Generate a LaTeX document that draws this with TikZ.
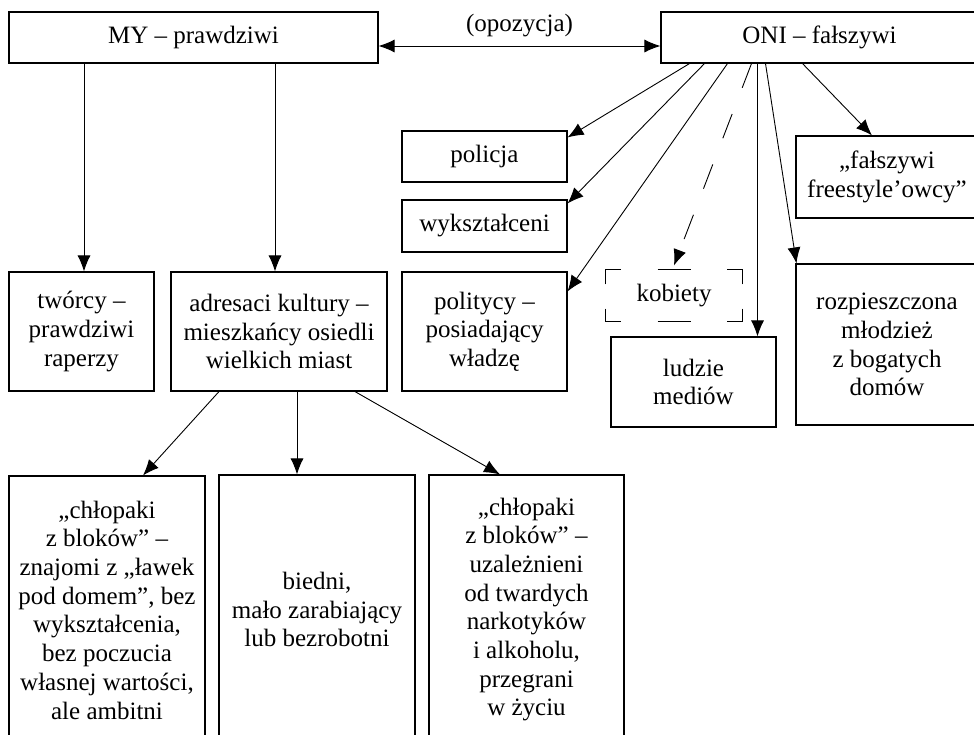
\documentclass[tikz,border=0pt]{standalone}
\usepackage{fontspec}
\setmainfont{Liberation Serif}
\usetikzlibrary{arrows.meta}

\begin{document}
\begin{tikzpicture}[x=1pt,y=-1pt,>={Latex[length=16pt,width=13pt]}]

\tikzset{%
  box/.style   = {draw,line width=1.1pt,align=center,inner sep=0pt,
                  font=\fontsize{25}{28.7}\selectfont},
  lbl/.style   = {inner sep=0pt,font=\fontsize{25}{28.7}\selectfont},
  link/.style  = {->,line width=0.9pt},
  maybe/.style = {->,line width=0.9pt,dash pattern=on 26pt off 28pt},
  frame/.style = {line width=1.1pt},
}

\clip (0,0) rectangle (974,734);

% MY
\node[box,minimum width=369pt,minimum height=51pt]  (my)       at (193.5,37.5) {MY – prawdziwi};
\node[box,minimum width=145pt,minimum height=119pt] (tworcy)   at (81.5,331.5) {twórcy –\\prawdziwi\\raperzy};
\node[box,minimum width=216pt,minimum height=119pt] (adresaci) at (279,331.5)  {adresaci kultury –\\mieszkańcy osiedli\\wielkich miast};

% ONI
\node[box,minimum width=317pt,minimum height=51pt]  (oni)       at (819.5,37.5) {ONI – fałszywi};
\node[box,minimum width=165pt,minimum height=51pt]  (policja)   at (484.5,156.5) {policja};
\node[box,minimum width=165pt,minimum height=52pt]  (wyksz)     at (484.5,226)   {wykształceni};
\node[box,minimum width=165pt,minimum height=119pt] (politycy)  at (484.5,331.5) {politycy –\\posiadający\\władzę};
\node[box,draw=none,minimum width=136pt,minimum height=51pt] (kobiety) at (674,295.5) {kobiety};
\node[box,minimum width=165pt,minimum height=90pt]  (ludzie)    at (693.5,382)   {ludzie\\mediów};
\node[box,minimum width=182pt,minimum height=82pt]  (freestyle) at (887,177)     {„fałszywi\\freestyle’owcy”};
\node[box,minimum width=182pt,minimum height=161pt] (bogaci)    at (887,344.5)   {rozpieszczona\\młodzież\\z bogatych\\domów};

% adresaci kultury
\node[box,minimum width=196pt,minimum height=268pt] (chlopaki)  at (107,610)   {„chłopaki\\z bloków” –\\znajomi z „ławek\\pod domem”, bez\\wykształcenia,\\bez poczucia\\własnej wartości,\\ale ambitni};
\node[box,minimum width=196pt,minimum height=269pt] (biedni)    at (317,609.5) {biedni,\\mało zarabiający\\lub bezrobotni};
\node[box,minimum width=195pt,minimum height=269pt] (narkotyki) at (526.5,609.5) {„chłopaki\\z bloków” –\\uzależnieni\\od twardych\\narkotyków\\i alkoholu,\\przegrani\\w życiu};

% Opposition
\draw[<->,line width=0.9pt] ([yshift=-8.5pt]my.east) -- node[lbl,above=9pt]{(opozycja)} ([yshift=-8.5pt]oni.west);

% MY -> groups
\draw[link] ([xshift=2.5pt]tworcy.north |- my.south) -- ([xshift=2.5pt]tworcy.north);
\draw[link] ([xshift=-4pt]adresaci.north |- my.south) -- ([xshift=-4pt]adresaci.north);

% ONI -> groups
\draw[link]  ([xshift=-130pt]oni.south) -- ([yshift=-7pt]policja.north east);
\draw[link]  ([xshift=-115pt]oni.south) -- ([yshift=-4pt]wyksz.north east);
\draw[link]  ([xshift=-92pt]oni.south)  -- ([yshift=-20pt]politycy.north east);
\draw[maybe] ([xshift=-68pt]oni.south)  -- ([yshift=4pt]kobiety.north);
\draw[link]  ([xshift=-62pt]oni.south)  -- ([xshift=-62pt]oni.south |- ludzie.north);
\draw[link]  ([xshift=-54pt]oni.south)  -- ([xshift=1pt]bogaci.north west);
\draw[link]  ([xshift=-17pt]oni.south)  -- ([xshift=-15pt]freestyle.north);

% adresaci -> subgroups
\draw[link] ([xshift=-60pt]adresaci.south) -- ([xshift=36pt]chlopaki.north);
\draw[link] ([xshift=18pt]adresaci.south)  -- ([xshift=-20pt]biedni.north);
\draw[link] ([xshift=76pt]adresaci.south)  -- ([xshift=-26.5pt]narkotyki.north);

% kobiety: broken frame
\draw[frame] (kobiety.north west) ++(0,15)  |- ++(16,-15);
\draw[frame] (kobiety.north east) ++(0,15)  |- ++(-16,-15);
\draw[frame] (kobiety.south west) ++(0,-13) |- ++(16,13);
\draw[frame] (kobiety.south east) ++(0,-13) |- ++(-16,13);
\draw[frame] ([xshift=-16.5pt]kobiety.north) -- ++(33,0);
\draw[frame] ([xshift=-16.5pt]kobiety.south) -- ++(33,0);

\end{tikzpicture}
\end{document}
